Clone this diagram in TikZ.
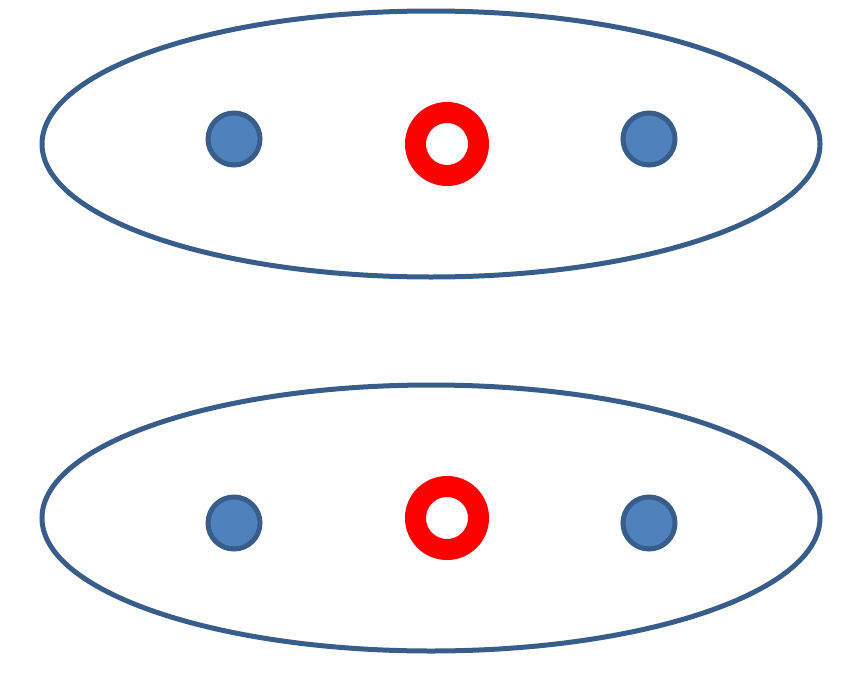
\documentclass[tikz,border=0pt]{standalone}
\usetikzlibrary{shapes,positioning}
\definecolor{edgeblue}{HTML}{385D8A}
\definecolor{fillblue}{HTML}{4F81BD}

\begin{document}
\begin{tikzpicture}[x=1pt, y=-1pt,
    orbit/.style={draw=edgeblue, ellipse, line width=5pt, minimum width=778pt, minimum height=266pt, inner sep=0pt},
    dot/.style={draw=edgeblue, fill=fillblue, circle, line width=5pt, minimum size=52pt, inner sep=0pt},
    ring/.style={draw=red, circle, line width=21pt, minimum size=63pt, inner sep=0pt}]
\useasboundingbox (0,0) rectangle (846,672);

% oberer Ring
\node[orbit] (top) at (431,144) {};
\node[dot] (topleft) at (234,139) {};
\node[ring] (topring) at (447,144) {};
\node[dot] (topright) at (649,139) {};

% unterer Ring
\node[orbit] (bottom) at (431,518) {};
\node[dot] (bottomleft) at (234,523) {};
\node[ring] (bottomring) at (447,518) {};
\node[dot] (bottomright) at (649,523) {};
\end{tikzpicture}
\end{document}
